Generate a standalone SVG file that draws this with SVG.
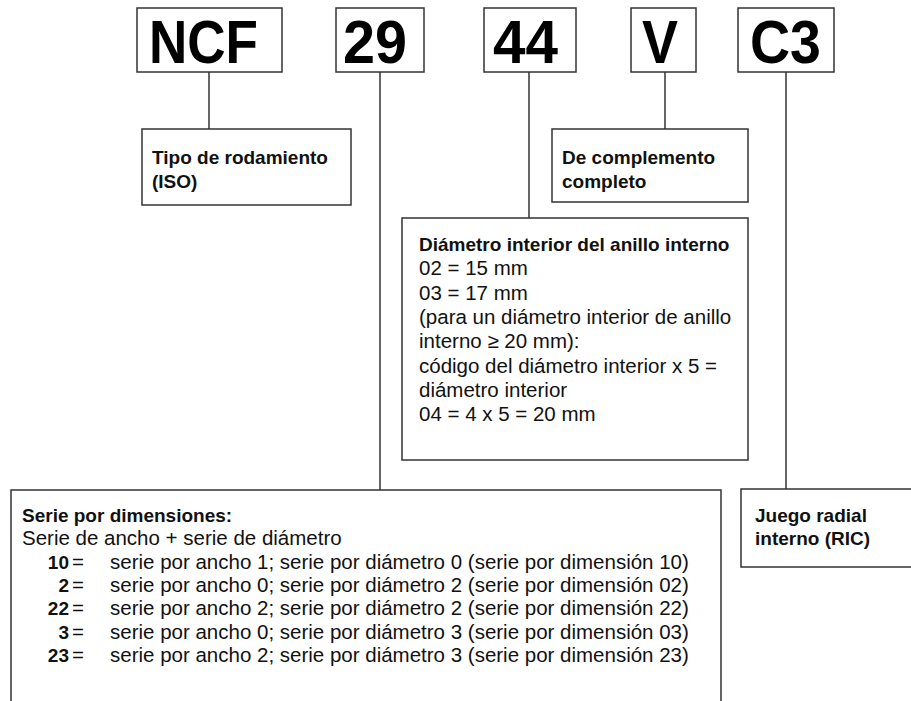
<svg xmlns="http://www.w3.org/2000/svg" width="911" height="701" viewBox="0 0 911 701">
<style>
.box{fill:#fff;stroke:#333;stroke-width:1.5}
.con line{stroke:#333;stroke-width:1.5}
.big{font-family:"Liberation Sans",Arial,sans-serif;font-weight:bold;font-size:61px;fill:#000}
.b{font-family:"Liberation Sans",Arial,sans-serif;font-weight:bold;font-size:19px;fill:#111}
.r{font-family:"Liberation Sans",Arial,sans-serif;font-size:20.5px;fill:#111}
</style>
<rect width="911" height="701" fill="#fff"/>
<g id="connectors" class="con">
<line x1="209" y1="72" x2="209" y2="129"/>
<line x1="380" y1="72" x2="380" y2="490"/>
<line x1="529" y1="72" x2="529" y2="218"/>
<line x1="665" y1="72" x2="665" y2="129"/>
<line x1="786" y1="72" x2="786" y2="489"/>
</g>
<g id="code-ncf">
<rect class="box" x="137" y="8" width="145" height="64"/>
<text class="big" x="149" y="63" textLength="109" lengthAdjust="spacingAndGlyphs">NCF</text>
</g>
<g id="code-29">
<rect class="box" x="336" y="8" width="88" height="64"/>
<text class="big" x="343" y="63" textLength="64" lengthAdjust="spacingAndGlyphs">29</text>
</g>
<g id="code-44">
<rect class="box" x="484" y="8" width="92" height="64"/>
<text class="big" x="493" y="63" textLength="65" lengthAdjust="spacingAndGlyphs">44</text>
</g>
<g id="code-v">
<rect class="box" x="631" y="8" width="65" height="64"/>
<text class="big" x="642" y="63" textLength="36" lengthAdjust="spacingAndGlyphs">V</text>
</g>
<g id="code-c3">
<rect class="box" x="738" y="8" width="96" height="64"/>
<text class="big" x="750" y="63" textLength="71" lengthAdjust="spacingAndGlyphs">C3</text>
</g>
<g id="tipo">
<rect class="box" x="142" y="129" width="209" height="76"/>
<text class="b" x="152" y="164">Tipo de rodamiento</text>
<text class="b" x="152" y="188">(ISO)</text>
</g>
<g id="complemento">
<rect class="box" x="552" y="129" width="196" height="73"/>
<text class="b" x="562" y="164">De complemento</text>
<text class="b" x="562" y="188">completo</text>
</g>
<g id="diametro">
<rect class="box" x="402" y="218" width="346" height="242"/>
<text class="b" x="419" y="251">Diámetro interior del anillo interno</text>
<text class="r" x="419" y="275.3">02 = 15 mm</text>
<text class="r" x="419" y="299.6">03 = 17 mm</text>
<text class="r" x="419" y="323.9">(para un diámetro interior de anillo</text>
<text class="r" x="419" y="348.2">interno ≥ 20 mm):</text>
<text class="r" x="419" y="372.5">código del diámetro interior x 5 =</text>
<text class="r" x="419" y="396.8">diámetro interior</text>
<text class="r" x="419" y="421.1">04 = 4 x 5 = 20 mm</text>
</g>
<g id="serie">
<path class="box" d="M11,701 V490 H721 V701"/>
<text class="b" x="22" y="522">Serie por dimensiones:</text>
<text class="r" x="22" y="545.3">Serie de ancho + serie de diámetro</text>
<g class="b" text-anchor="end">
<text x="69" y="568.6">10</text>
<text x="69" y="591.9">2</text>
<text x="69" y="615.2">22</text>
<text x="69" y="638.5">3</text>
<text x="69" y="661.8">23</text>
</g>
<g class="r">
<text x="72" y="568.6">=</text>
<text x="72" y="591.9">=</text>
<text x="72" y="615.2">=</text>
<text x="72" y="638.5">=</text>
<text x="72" y="661.8">=</text>
<text x="110" y="568.6">serie por ancho 1; serie por diámetro 0 (serie por dimensión 10)</text>
<text x="110" y="591.9">serie por ancho 0; serie por diámetro 2 (serie por dimensión 02)</text>
<text x="110" y="615.2">serie por ancho 2; serie por diámetro 2 (serie por dimensión 22)</text>
<text x="110" y="638.5">serie por ancho 0; serie por diámetro 3 (serie por dimensión 03)</text>
<text x="110" y="661.8">serie por ancho 2; serie por diámetro 3 (serie por dimensión 23)</text>
</g>
</g>
<g id="juego">
<rect class="box" x="741" y="489" width="200" height="78"/>
<text class="b" x="755" y="522">Juego radial</text>
<text class="b" x="755" y="545">interno (RIC)</text>
</g>
</svg>
